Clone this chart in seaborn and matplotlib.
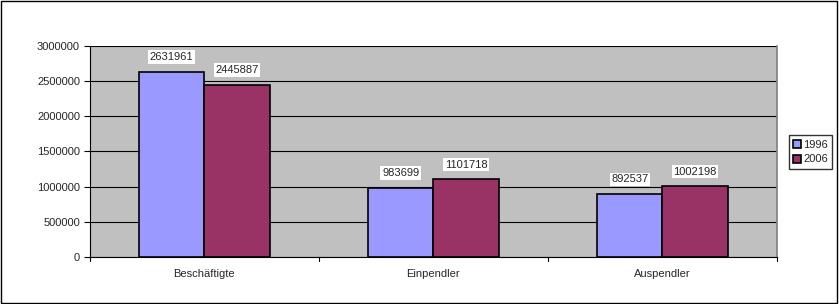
import pandas as pd
import matplotlib.pyplot as plt
import seaborn as sns
from matplotlib.patches import Rectangle

# ===========================
# Data
# ===========================
categories = ["Beschäftigte", "Einpendler", "Auspendler"]
years = ["1996", "2006"]
values_1996 = [2631961, 983699, 892537]
values_2006 = [2445887, 1101718, 1002198]
yticks = [0, 500000, 1000000, 1500000, 2000000, 2500000, 3000000]

df = pd.DataFrame({
    "Kategorie": categories * 2,
    "Jahr": [years[0]] * 3 + [years[1]] * 3,
    "Wert": values_1996 + values_2006,
})

# ===========================
# Style
# ===========================
sns.set_style("white")
plt.rcParams["font.family"] = ["Liberation Sans", "DejaVu Sans"]
palette = {"1996": "#9999FF", "2006": "#993366"}
FS = 8

fig = plt.figure(figsize=(8.39, 3.04), dpi=100)
ax = fig.add_axes([0.107, 0.155, 0.819, 0.694])
ax.set_facecolor("#C0C0C0")

sns.barplot(data=df, x="Kategorie", y="Wert", hue="Jahr", palette=palette,
            width=0.57, edgecolor="black", linewidth=1.2, saturation=1,
            ax=ax, zorder=3)

for cont in ax.containers:
    ax.bar_label(cont, labels=[f"{int(v)}" for v in cont.datavalues],
                 padding=7, fontsize=FS,
                 bbox=dict(facecolor="white", edgecolor="none", pad=1.2))

ax.set_ylim(0, 3000000)
ax.set_yticks(yticks)
ax.set_yticklabels([str(t) for t in yticks], fontsize=FS)
ax.set_xlim(-0.5, 2.5)
ax.set_xticks([0, 1, 2])
ax.set_xticklabels(categories, fontsize=FS)
ax.tick_params(axis="x", length=0, pad=9)
ax.tick_params(axis="y", length=4, width=0.8, color="black", pad=3, left=True)
ax.set_xlabel("")
ax.set_ylabel("")

# gridlines in black like old Excel charts
ax.yaxis.grid(True, color="black", linewidth=0.8)
ax.set_axisbelow(True)
ax.spines["top"].set_visible(False)
ax.spines["right"].set_color("#808080")
ax.spines["right"].set_linewidth(1.2)
for side in ["left", "bottom"]:
    ax.spines[side].set_color("black")
    ax.spines[side].set_linewidth(0.8)

# category separator ticks below x axis
for xb in [-0.5, 0.5, 1.5, 2.5]:
    ax.plot([xb, xb], [0, -0.02], transform=ax.get_xaxis_transform(),
            color="black", linewidth=0.8, clip_on=False)

# legend
handles, labels = ax.get_legend_handles_labels()
ax.legend(handles, labels, loc="center left", bbox_to_anchor=(0.94, 0.5),
          bbox_transform=fig.transFigure, fontsize=FS, frameon=True,
          fancybox=False, edgecolor="black", handlelength=0.7,
          handleheight=0.7, handletextpad=0.2, borderpad=0.4,
          labelspacing=0.45, borderaxespad=0)

# outer chart border
fig.patches.append(Rectangle((0.001, 0.002), 0.997, 0.995, transform=fig.transFigure,
                             fill=False, edgecolor="black", linewidth=1))

plt.savefig("out.png", dpi=100)
plt.close()
